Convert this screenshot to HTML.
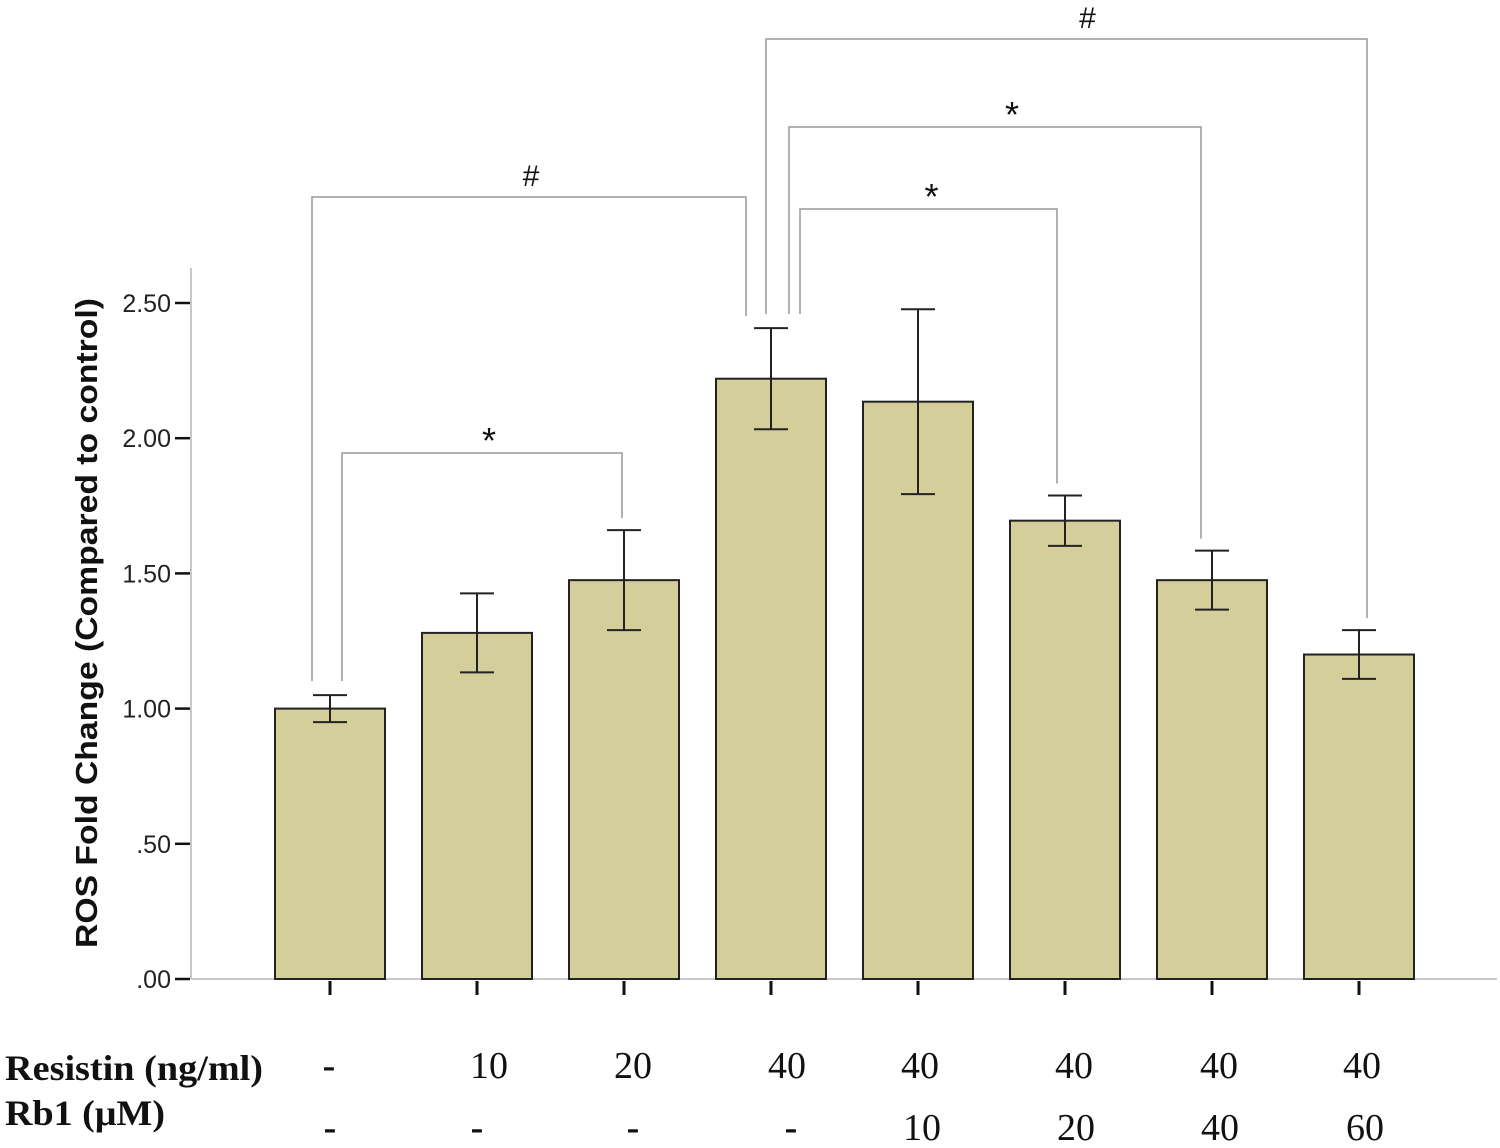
<!DOCTYPE html>
<html><head><meta charset="utf-8"><style>
html,body{margin:0;padding:0;background:#fff;}
svg{display:block;}
</style></head><body>
<svg id="chart" width="1500" height="1148" viewBox="0 0 1500 1148" xmlns="http://www.w3.org/2000/svg">
<text transform="translate(97,623) rotate(-90)" text-anchor="middle" font-family="Liberation Sans, sans-serif" font-weight="bold" font-size="31" textLength="650" lengthAdjust="spacingAndGlyphs" fill="#111">ROS Fold Change (Compared to control)</text>
<g id="plot"></g>
<text x="5" y="1080" font-family="Liberation Serif, serif" font-weight="bold" font-size="36" textLength="258" lengthAdjust="spacingAndGlyphs" fill="#111">Resistin (ng/ml)</text>
<text x="5" y="1125" font-family="Liberation Serif, serif" font-weight="bold" font-size="36" textLength="160" lengthAdjust="spacingAndGlyphs" fill="#111">Rb1 (μM)</text>
</svg>
<script>
const categories = ['ctrl','r10','r20','r40','r40rb10','r40rb20','r40rb40','r40rb60'];
const values = [1.00, 1.28, 1.475, 2.22, 2.135, 1.695, 1.475, 1.20];
const errors = [0.05, 0.146, 0.185, 0.187, 0.342, 0.093, 0.109, 0.09];
const yTicks = [0, 0.5, 1.0, 1.5, 2.0, 2.5];
const yTickLabels = ['.00', '.50', '1.00', '1.50', '2.00', '2.50'];
const resistinLabels = ['-', '10', '20', '40', '40', '40', '40', '40'];
const rb1Labels = ['-', '-', '-', '-', '10', '20', '40', '60'];
const brackets = [[0,3,'#',0],[0,2,'*',1],[3,7,'#',2],[3,6,'*',3],[3,5,'*',4]];

const NS = 'http://www.w3.org/2000/svg';
const g = document.getElementById('plot');
const y = v => 979 - v * 270.4;
const x = i => 330 + i * 147;
function el(tag, attrs){ const e = document.createElementNS(NS, tag); for (const k in attrs) e.setAttribute(k, attrs[k]); g.appendChild(e); return e; }

let a = el('line',{x1:191,y1:268,x2:191,y2:979,stroke:'#c8c8c8','stroke-width':2});


a = el('line',{x1:191,y1:979,x2:1497,y2:979,stroke:'#c8c8c8','stroke-width':2});



yTicks.forEach((t,i)=>{
  const tk = el('line',{x1:175,x2:190,y1:y(t),y2:y(t),stroke:'#111','stroke-width':2.5});
  
  
  const tl = el('text',{x:171,y:y(t)+9,'text-anchor':'end','font-family':'Liberation Sans, sans-serif','font-size':25,fill:'#222'});
  tl.textContent = yTickLabels[i];
  
  
});

const row1Off = [-1, 12, 9, 16, 2, 9, 7, 3];
const row2Off = [0, 0, 9, 20, 4, 11, 8, 6];
categories.forEach((c,i)=>{
  const cx = x(i);
  const b = el('rect',{x:cx-55,y:y(values[i]),width:110,height:979-y(values[i]),fill:'#d4cf9a',stroke:'#222','stroke-width':2});
  
  
  const hi = y(values[i]+errors[i]), lo = y(values[i]-errors[i]);
  const e1 = el('line',{x1:cx,x2:cx,y1:hi,y2:lo,stroke:'#222','stroke-width':2});
  
  
  el('line',{x1:cx-17,x2:cx+17,y1:hi,y2:hi,stroke:'#222','stroke-width':2});
  el('line',{x1:cx-17,x2:cx+17,y1:lo,y2:lo,stroke:'#222','stroke-width':2});
  const xt = el('line',{x1:cx,x2:cx,y1:981,y2:995,stroke:'#111','stroke-width':3});
  
  
  const r1 = el('text',{x:cx+row1Off[i],y:1078,'text-anchor':'middle','font-family':'Liberation Serif, serif','font-size':38,'font-weight':resistinLabels[i]==='-'?'bold':'normal',fill:'#111'});
  r1.textContent = resistinLabels[i];
  
  
  const r2 = el('text',{x:cx+row2Off[i],y:1140,'text-anchor':'middle','font-family':'Liberation Serif, serif','font-size':38,'font-weight':rb1Labels[i]==='-'?'bold':'normal',fill:'#111'});
  r2.textContent = rb1Labels[i];
  
  
});

const bracketTops = [197, 453, 39, 127, 209];
const leftOff = [-18, 12, -5, 18, 29];
const rightOff = [-25, -2, 8, -11, -8];
const symOff = [2, 7, 21, 17, 3];
brackets.forEach(([i,j,sym,k])=>{
  const xl = x(i)+leftOff[k], xr = x(j)+rightOff[k], top = bracketTops[k];
  const yl = y(values[i]+errors[i]) - 14, yr = y(values[j]+errors[j]) - 12;
  const p = el('path',{d:`M${xl},${yl}V${top}H${xr}V${yr}`,fill:'none',stroke:'#999','stroke-width':1.5});
  
  
  const t = el('text',{x:(xl+xr)/2+symOff[k],y:top-(sym==='#'?11:0),'text-anchor':'middle','font-family':'Liberation Sans, sans-serif','font-size':sym==='#'?30:36,fill:'#111'});
  t.textContent = sym;
  
  
});
</script>
</body></html>
